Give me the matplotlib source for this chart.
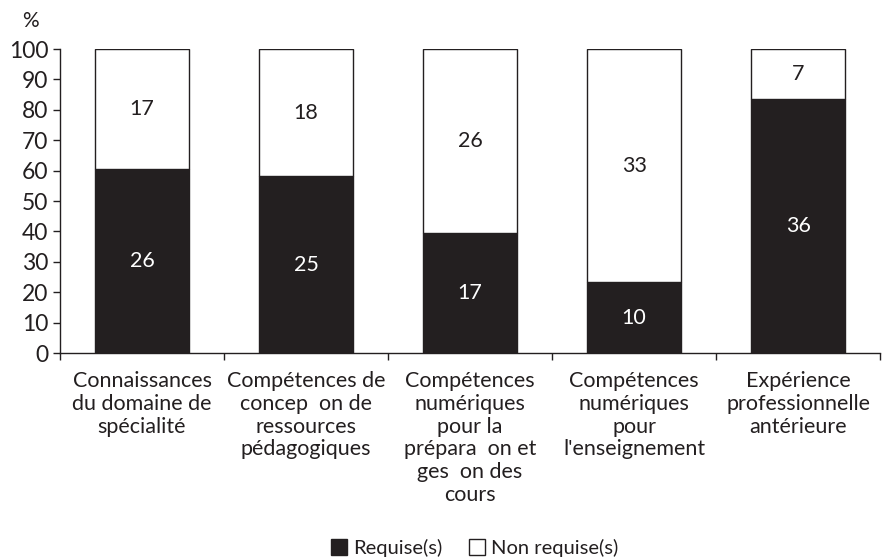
import numpy as np
import matplotlib.pyplot as plt
from matplotlib.patches import Patch

plt.rcParams['font.family'] = ['Lato', 'DejaVu Sans']

# data (counts)
categories = [
    "Connaissances\ndu domaine de\nspécialité",
    "Compétences de\nconcep  on de\nressources\npédagogiques",
    "Compétences\nnumériques\npour la\nprépara  on et\nges  on des\ncours",
    "Compétences\nnumériques\npour\nl'enseignement",
    "Expérience\nprofessionnelle\nantérieure",
]
requise = [26, 25, 17, 10, 36]
non_requise = [17, 18, 26, 33, 7]

req = np.array(requise, dtype=float)
non = np.array(non_requise, dtype=float)
tot = req + non
pct_req = req / tot * 100
pct_non = non / tot * 100

dark = '#231f20'
txt = '#231f20'

fig = plt.figure(figsize=(8.82, 5.57), dpi=100)
ax = fig.add_axes([0.068, 0.366, 0.930, 0.546])

x = np.arange(len(categories))
w = 0.573
ax.bar(x, pct_req, w, color=dark, edgecolor=dark, linewidth=1, label='Requise(s)')
ax.bar(x, pct_non, w, bottom=pct_req, color='white', edgecolor=dark, linewidth=1,
       label='Non requise(s)')

for i in range(len(x)):
    ax.text(x[i], pct_req[i] / 2, str(requise[i]), ha='center', va='center',
            color='white', fontsize=15.5)
    ax.text(x[i], pct_req[i] + pct_non[i] / 2, str(non_requise[i]), ha='center',
            va='center', color=txt, fontsize=15.5)

ax.set_xlim(-0.5, 4.5)
ax.set_ylim(0, 100)
ax.set_yticks(range(0, 101, 10))
ax.tick_params(axis='y', labelsize=16.5, colors=txt, direction='out', length=5, width=1)
ax.set_xticks(x)
ax.set_xticklabels(categories, fontsize=15.5, color=txt, linespacing=1.17)
ax.tick_params(axis='x', which='major', length=0, pad=13)
ax.set_xticks(np.arange(-0.5, 4.6, 1), minor=True)
ax.tick_params(axis='x', which='minor', length=5, width=1, direction='out', color=txt)

for s in ['top', 'right']:
    ax.spines[s].set_visible(False)
for s in ['left', 'bottom']:
    ax.spines[s].set_color(txt)
    ax.spines[s].set_linewidth(1)

fig.text(0.034, 0.962, '%', fontsize=15, color=txt, ha='center', va='center')

handles = [Patch(facecolor=dark, edgecolor=dark, label='Requise(s)'),
           Patch(facecolor='white', edgecolor=dark, label='Non requise(s)')]
fig.legend(handles=handles, loc='center', bbox_to_anchor=(0.538, 0.016), ncol=2,
           frameon=False, fontsize=14.5, handlelength=0.8, handleheight=0.8,
           handletextpad=0.3, columnspacing=1.3, labelcolor=txt, borderpad=0)

fig.savefig('out.png', dpi=100)
